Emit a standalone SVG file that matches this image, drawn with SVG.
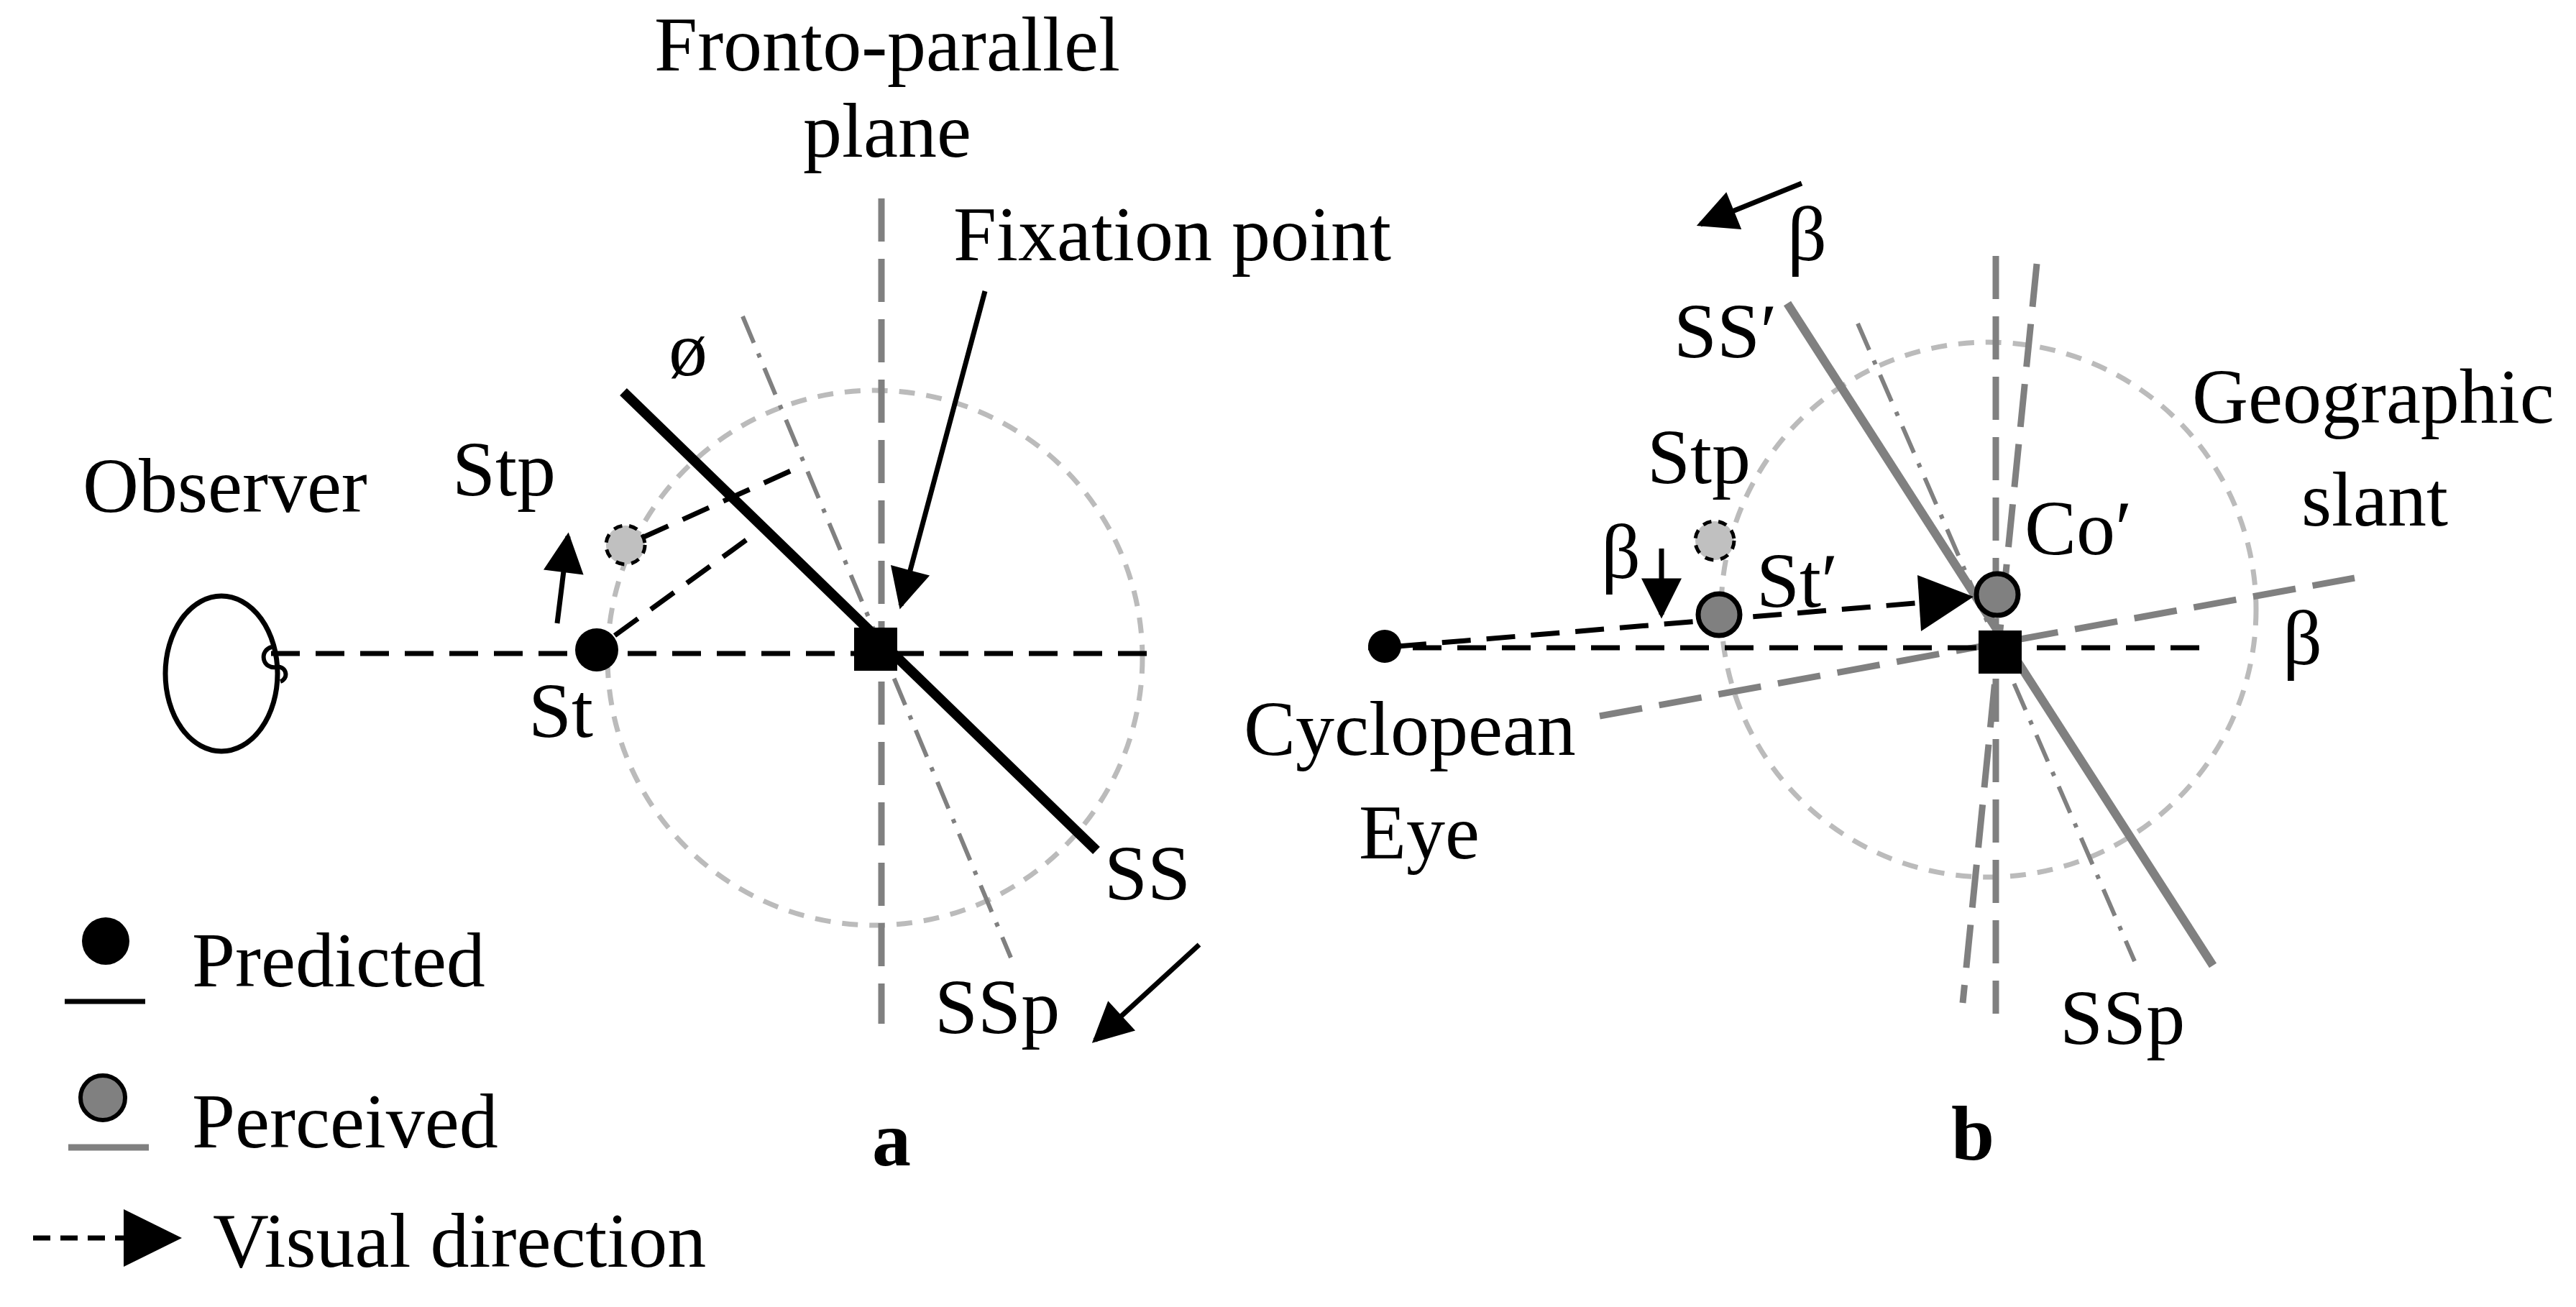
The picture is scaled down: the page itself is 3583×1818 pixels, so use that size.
<svg xmlns="http://www.w3.org/2000/svg" width="3583" height="1818" viewBox="0 0 3583 1818">
<defs>
<marker id="ah" viewBox="0 0 10 10" refX="9" refY="5" markerWidth="10" markerHeight="8" orient="auto" markerUnits="strokeWidth"><path d="M0,0 L10,5 L0,10 z" fill="#000"/></marker>
</defs>
<style>
text{font-family:"Liberation Serif",serif;font-size:108px;fill:#000}
.b{font-weight:bold}
.dblk{stroke:#000;stroke-width:7;stroke-dasharray:40 22;fill:none}
.gcirc{stroke:#bbb;stroke-width:7;stroke-dasharray:22 16;fill:none}
.gv{stroke:#808080;stroke-width:9;stroke-dasharray:60 24;fill:none}
.dd{stroke:#808080;stroke-width:6;stroke-dasharray:40 16 6 16;fill:none}
.arr{stroke:#000;stroke-width:7;fill:none;marker-end:url(#ah)}
</style>
<rect width="3583" height="1818" fill="#fff"/>
<g id="connectors">
<circle class="gcirc" cx="1217" cy="915" r="372"/>
<line class="gv" x1="1226" y1="276" x2="1226" y2="1424"/>
<line class="dd" x1="1033" y1="440" x2="1406" y2="1332"/>
<line class="dblk" x1="377" y1="909" x2="1611" y2="909"/>
<line x1="867" y1="545" x2="1525" y2="1183" stroke="#000" stroke-width="14"/>
<line class="dblk" x1="893" y1="748" x2="1102" y2="654"/>
<line class="dblk" x1="855" y1="884" x2="1045" y2="746"/>
<line class="arr" x1="775" y1="867" x2="790" y2="746"/>
<line class="arr" x1="1370" y1="405" x2="1253" y2="842"/>
<line class="arr" x1="1668" y1="1314" x2="1523" y2="1447"/>
<line x1="90" y1="1393" x2="202" y2="1393" stroke="#000" stroke-width="7"/>
<line x1="95" y1="1596" x2="207" y2="1596" stroke="#808080" stroke-width="9"/>
<line x1="46" y1="1722" x2="175" y2="1722" stroke="#000" stroke-width="7" stroke-dasharray="24 14"/>
<path d="M172,1682 L253,1722 L172,1762 z" fill="#000"/>

<circle class="gcirc" cx="2766" cy="848" r="372"/>
<line class="gv" x1="2776" y1="356" x2="2776" y2="1410"/>
<line class="gv" x1="2833" y1="367" x2="2730" y2="1395" stroke-dasharray="80 30" stroke-width="10"/>
<line x1="2486" y1="422" x2="3078" y2="1343" stroke="#808080" stroke-width="12"/>
<line class="dd" x1="2584" y1="450" x2="2969" y2="1337"/>
<line class="gv" x1="2225" y1="996" x2="3275" y2="804" stroke-dasharray="80 30" stroke-width="10"/>
<line class="dblk" x1="1903" y1="901" x2="3069" y2="901"/>
<line class="dblk" x1="1944" y1="899" x2="2700" y2="836"/>
<path d="M2745,830 L2667,800 L2672,878 z" fill="#000"/>
<line class="arr" x1="2311" y1="763" x2="2311" y2="855"/>
<line class="arr" x1="2506" y1="255" x2="2365" y2="312"/>
</g>
<g id="observer"><ellipse cx="308" cy="937" rx="78" ry="108" fill="none" stroke="#000" stroke-width="7"/><path d="M378,900 a12,12 0 1 0 6,28 a10,10 0 0 1 6,20" fill="none" stroke="#000" stroke-width="6"/></g>
<g id="St"><circle cx="830" cy="904" r="30" fill="#000"/></g>
<g id="Stp"><circle cx="870" cy="758" r="27" fill="#c0c0c0" stroke="#000" stroke-width="5" stroke-dasharray="12 10"/></g>
<g id="fix-a"><rect x="1188" y="873" width="60" height="60" fill="#000"/></g>
<g id="legend"><circle cx="147" cy="1309" r="33" fill="#000"/><circle cx="143" cy="1527" r="31" fill="#808080" stroke="#000" stroke-width="6"/></g>
<g id="cyc"><circle cx="1926" cy="899" r="23" fill="#000"/></g>
<g id="fix-b"><rect x="2752" y="877" width="60" height="60" fill="#000"/></g>
<g id="Stp-b"><circle cx="2385" cy="752" r="27" fill="#c0c0c0" stroke="#000" stroke-width="5" stroke-dasharray="12 10"/></g>
<g id="Stprime"><circle cx="2391" cy="855" r="29" fill="#808080" stroke="#000" stroke-width="7"/></g>
<g id="Coprime"><circle cx="2778" cy="827" r="29" fill="#808080" stroke="#000" stroke-width="7"/></g>
<g id="labels">
<text x="1234" y="98" text-anchor="middle" font-size="112">Fronto-parallel</text>
<text x="1234" y="218" text-anchor="middle" font-size="112">plane</text>
<text x="1326" y="362">Fixation point</text>
<text x="930" y="522">ø</text>
<text x="629" y="689">Stp</text>
<text x="115" y="712">Observer</text>
<text x="735" y="1025">St</text>
<text x="1536" y="1251">SS</text>
<text x="1300" y="1437">SSp</text>
<text x="267" y="1372">Predicted</text>
<text x="267" y="1596">Perceived</text>
<text x="1240" y="1621" text-anchor="middle" class="b">a</text>
<text x="296" y="1762">Visual direction</text>
<text x="2486" y="362">β</text>
<text x="2328" y="497">SS′</text>
<text x="3049" y="588">Geographic</text>
<text x="3201" y="731">slant</text>
<text x="2291" y="672">Stp</text>
<text x="2816" y="771">Co′</text>
<text x="2227" y="804">β</text>
<text x="2443" y="844">St′</text>
<text x="3175" y="924">β</text>
<text x="1730" y="1050">Cyclopean</text>
<text x="1890" y="1194">Eye</text>
<text x="2865" y="1452">SSp</text>
<text x="2744" y="1613" text-anchor="middle" class="b">b</text>
</g>
</svg>
